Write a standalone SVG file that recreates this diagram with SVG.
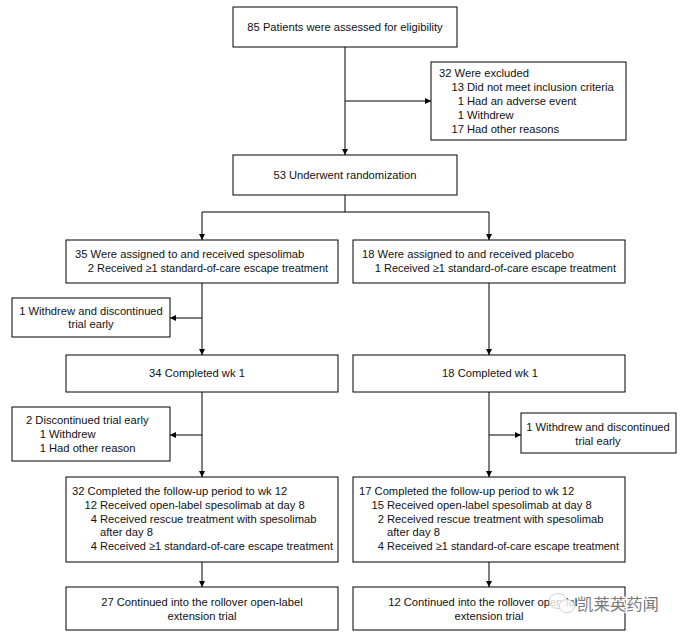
<svg xmlns="http://www.w3.org/2000/svg" width="683" height="635" viewBox="0 0 683 635">
<defs>
<style>
.box{fill:#fff;stroke:#000;stroke-width:1}
.t{font-family:"Liberation Sans",Arial,sans-serif;font-size:11.2px;fill:#111}
.c{text-anchor:middle}
.e{text-anchor:end}
.ln{fill:none;stroke:#000;stroke-width:1}
.wm{font-family:"Noto Sans CJK SC",sans-serif;font-size:16.4px;fill:#7a7a7a;stroke:#fff;stroke-width:2.5;paint-order:stroke}
.wi{fill:#fff;fill-opacity:0.8;stroke:#c4c4c4;stroke-width:0.8}
</style>
<marker id="ah" viewBox="0 0 10 10" refX="10" refY="5" markerWidth="8" markerHeight="6" markerUnits="userSpaceOnUse" orient="auto">
<path d="M0,0 L10,5 L0,10 Z" fill="#000"/>
</marker>
</defs>
<rect width="683" height="635" fill="#fff"/>

<g id="connectors">
<line class="ln" x1="345" y1="47" x2="345" y2="155" marker-end="url(#ah)"/>
<line class="ln" x1="345" y1="101" x2="431" y2="101" marker-end="url(#ah)"/>
<polyline class="ln" points="345,195 345,212"/>
<polyline class="ln" points="202,212 489,212"/>
<line class="ln" x1="202" y1="212" x2="202" y2="240" marker-end="url(#ah)"/>
<line class="ln" x1="489" y1="212" x2="489" y2="240" marker-end="url(#ah)"/>
<line class="ln" x1="202" y1="283" x2="202" y2="355" marker-end="url(#ah)"/>
<line class="ln" x1="202" y1="318" x2="170" y2="318" marker-end="url(#ah)"/>
<line class="ln" x1="489" y1="283" x2="489" y2="355" marker-end="url(#ah)"/>
<line class="ln" x1="202" y1="392" x2="202" y2="477" marker-end="url(#ah)"/>
<line class="ln" x1="202" y1="435" x2="170" y2="435" marker-end="url(#ah)"/>
<line class="ln" x1="489" y1="392" x2="489" y2="477" marker-end="url(#ah)"/>
<line class="ln" x1="489" y1="435" x2="521" y2="435" marker-end="url(#ah)"/>
<line class="ln" x1="202" y1="562" x2="202" y2="587" marker-end="url(#ah)"/>
<line class="ln" x1="489" y1="562" x2="489" y2="587" marker-end="url(#ah)"/>
</g>

<g id="assessed">
<rect class="box" x="233" y="7" width="224" height="40"/>
<text class="t c" x="345" y="31">85 Patients were assessed for eligibility</text>
</g>

<g id="excluded">
<rect class="box" x="431" y="62" width="195" height="78"/>
<text class="t" x="439" y="77">32 Were excluded</text>
<text class="t e" x="464" y="91">13</text><text class="t" x="467" y="91">Did not meet inclusion criteria</text>
<text class="t e" x="464" y="105">1</text><text class="t" x="467" y="105">Had an adverse event</text>
<text class="t e" x="464" y="119">1</text><text class="t" x="467" y="119">Withdrew</text>
<text class="t e" x="464" y="133">17</text><text class="t" x="467" y="133">Had other reasons</text>
</g>

<g id="randomization">
<rect class="box" x="233" y="155" width="224" height="40"/>
<text class="t c" x="345" y="179">53 Underwent randomization</text>
</g>

<g id="spesolimab">
<rect class="box" x="66" y="240" width="272" height="43"/>
<text class="t" x="75" y="258">35 Were assigned to and received spesolimab</text>
<text class="t e" x="94" y="272">2</text><text class="t" x="97" y="272" textLength="231" lengthAdjust="spacingAndGlyphs">Received ≥1 standard-of-care escape treatment</text>
</g>

<g id="placebo">
<rect class="box" x="353" y="240" width="272" height="43"/>
<text class="t" x="362" y="258">18 Were assigned to and received placebo</text>
<text class="t e" x="381" y="272">1</text><text class="t" x="384" y="272" textLength="232" lengthAdjust="spacingAndGlyphs">Received ≥1 standard-of-care escape treatment</text>
</g>

<g id="withdrew-left">
<rect class="box" x="12" y="298" width="158" height="39"/>
<text class="t c" x="91" y="315">1 Withdrew and discontinued</text>
<text class="t c" x="91" y="328">trial early</text>
</g>

<g id="wk1-left">
<rect class="box" x="66" y="355" width="272" height="37"/>
<text class="t c" x="197" y="377">34 Completed wk 1</text>
</g>

<g id="wk1-right">
<rect class="box" x="353" y="355" width="272" height="37"/>
<text class="t c" x="490" y="377">18 Completed wk 1</text>
</g>

<g id="discontinued-left">
<rect class="box" x="12" y="407" width="158" height="54"/>
<text class="t" x="26" y="424">2 Discontinued trial early</text>
<text class="t e" x="46" y="438">1</text><text class="t" x="49" y="438">Withdrew</text>
<text class="t e" x="46" y="452">1</text><text class="t" x="49" y="452">Had other reason</text>
</g>

<g id="withdrew-right">
<rect class="box" x="521" y="413" width="155" height="40"/>
<text class="t c" x="598" y="431">1 Withdrew and discontinued</text>
<text class="t c" x="598" y="445">trial early</text>
</g>

<g id="followup-left">
<rect class="box" x="66" y="477" width="272" height="85"/>
<text class="t" x="72" y="495">32 Completed the follow-up period to wk 12</text>
<text class="t e" x="97" y="509">12</text><text class="t" x="100" y="509">Received open-label spesolimab at day 8</text>
<text class="t e" x="97" y="523">4</text><text class="t" x="100" y="523">Received rescue treatment with spesolimab</text>
<text class="t" x="100" y="536">after day 8</text>
<text class="t e" x="97" y="550">4</text><text class="t" x="100" y="550" textLength="233" lengthAdjust="spacingAndGlyphs">Received ≥1 standard-of-care escape treatment</text>
</g>

<g id="followup-right">
<rect class="box" x="353" y="477" width="272" height="85"/>
<text class="t" x="359" y="495">17 Completed the follow-up period to wk 12</text>
<text class="t e" x="384" y="509">15</text><text class="t" x="387" y="509">Received open-label spesolimab at day 8</text>
<text class="t e" x="384" y="523">2</text><text class="t" x="387" y="523">Received rescue treatment with spesolimab</text>
<text class="t" x="387" y="536">after day 8</text>
<text class="t e" x="384" y="550">4</text><text class="t" x="387" y="550" textLength="232" lengthAdjust="spacingAndGlyphs">Received ≥1 standard-of-care escape treatment</text>
</g>

<g id="extension-left">
<rect class="box" x="66" y="587" width="272" height="43"/>
<text class="t c" x="202" y="606">27 Continued into the rollover open-label</text>
<text class="t c" x="202" y="620">extension trial</text>
</g>

<g id="extension-right">
<rect class="box" x="353" y="587" width="272" height="43"/>
<text class="t c" x="489" y="606">12 Continued into the rollover open-label</text>
<text class="t c" x="489" y="620">extension trial</text>
</g>

<g id="watermark">
<ellipse class="wi" cx="558" cy="601" rx="9" ry="7.5"/>
<ellipse class="wi" cx="567" cy="606" rx="8" ry="6.5"/>
<text class="wm" x="577" y="610">凯莱英药闻</text>
</g>
</svg>
